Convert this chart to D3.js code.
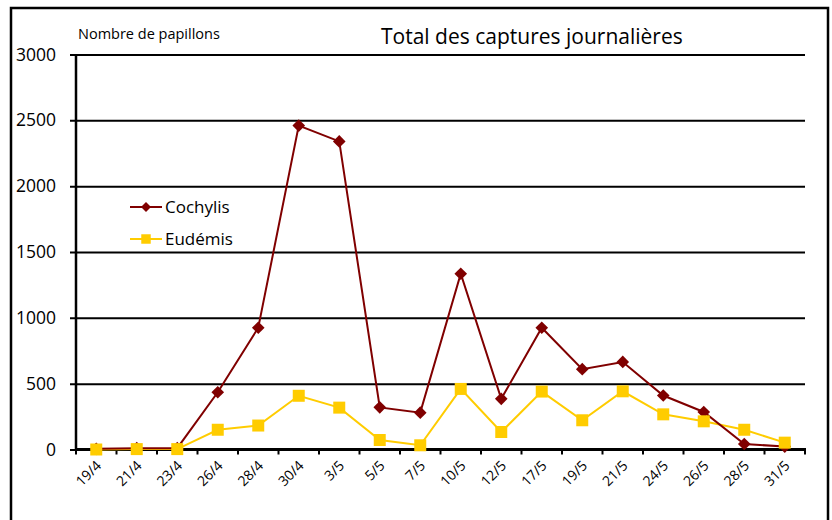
<!DOCTYPE html>
<meta charset="utf-8">
<head>
  <script src="https://d3js.org/d3.v7.min.js"></script>
  <style>
    body { margin: 0; background: #fff; }
    text { font-family: "Open Sans", "DejaVu Sans", sans-serif; fill: #000; }
  </style>
</head>
<body>
  <svg width="832" height="520"></svg>
  <script>
    // dates of the catches
    var dates = ["19/4","21/4","23/4","26/4","28/4","30/4","3/5","5/5","7/5","10/5",
                 "12/5","17/5","19/5","21/5","24/5","26/5","28/5","31/5"];
    var cochylis = [5, 10, 10, 435, 925, 2460, 2340, 320, 280, 1335,
                    385, 925, 610, 665, 410, 285, 42, 22];
    var eudemis = [0, 3, 3, 150, 182, 408, 318, 72, 32, 460,
                   133, 440, 222, 442, 267, 214, 150, 52];
    var yTicks = [0, 500, 1000, 1500, 2000, 2500, 3000];

    var svg = d3.select("svg");
    var mLeft = 76, mRight = 805, mTop = 54.5, mBottom = 449.5;

    // outer frame
    svg.append("rect")
      .attr("x", 11).attr("y", 8)
      .attr("width", 817).attr("height", 530)
      .attr("fill", "none").attr("stroke", "#000").attr("stroke-width", 2.5);

    var x = d3.scaleBand().domain(dates).range([mLeft, mRight]);
    var y = d3.scaleLinear().domain([0, 3000]).range([mBottom, mTop]);

    // horizontal grid lines + y labels
    var yAxis = svg.append("g").attr("transform", "translate(" + mLeft + ",0)")
      .call(d3.axisLeft(y).tickValues(yTicks).tickSize(-(mRight - mLeft)).tickSizeOuter(0).tickFormat(d3.format("d")));
    yAxis.select(".domain").remove();
    yAxis.selectAll(".tick line").attr("stroke", "#000").attr("stroke-width", 2).attr("x1", -6);
    yAxis.selectAll(".tick text").attr("x", -20).style("font-size", "17.5px")
      .style("font-family", "'Open Sans', sans-serif");

    // vertical axis line
    svg.append("line")
      .attr("x1", mLeft).attr("x2", mLeft).attr("y1", mTop).attr("y2", mBottom)
      .attr("stroke", "#000").attr("stroke-width", 2.5);

    // x axis with ticks between the categories
    var xg = svg.append("g").attr("transform", "translate(0," + mBottom + ")");
    xg.append("line").attr("x1", mLeft).attr("x2", mRight + 1)
      .attr("stroke", "#000").attr("stroke-width", 3);
    var edges = dates.map(function(d){ return x(d); }).concat([mRight]);
    xg.selectAll(".tk").data(edges).enter().append("line")
      .attr("x1", function(d){ return d; }).attr("x2", function(d){ return d; })
      .attr("y1", 0).attr("y2", 5)
      .attr("stroke", "#000").attr("stroke-width", 2);
    xg.selectAll(".lab").data(dates).enter().append("text")
      .attr("transform", function(d){
        return "translate(" + (x(d) + x.bandwidth() / 2 + 6) + ",17) rotate(-45)";
      })
      .attr("text-anchor", "end")
      .style("font-size", "14px")
      .text(function(d){ return d; });

    var cx = function(d, i){ return x(dates[i]) + x.bandwidth() / 2; };

    var line = d3.line().x(function(d, i){ return cx(d, i); }).y(function(d){ return y(d); });

    // Eudémis
    svg.append("path").datum(eudemis).attr("d", line)
      .attr("fill", "none").attr("stroke", "#FFCC00").attr("stroke-width", 2);
    // Cochylis
    svg.append("path").datum(cochylis).attr("d", line)
      .attr("fill", "none").attr("stroke", "#800000").attr("stroke-width", 2);

    svg.selectAll(".diam").data(cochylis).enter().append("path")
      .attr("d", d3.symbol().type(d3.symbolSquare).size(80))
      .attr("transform", function(d, i){ return "translate(" + cx(d, i) + "," + y(d) + ") rotate(45)"; })
      .attr("fill", "#800000");
    svg.selectAll(".sq").data(eudemis).enter().append("path")
      .attr("d", d3.symbol().type(d3.symbolSquare).size(144))
      .attr("transform", function(d, i){ return "translate(" + cx(d, i) + "," + y(d) + ")"; })
      .attr("fill", "#FFCC00");

    // legend
    var legend = [{name: "Cochylis", color: "#800000", sym: "diam"}, {name: "Eudémis", color: "#FFCC00", sym: "sq"}];
    var lg = svg.selectAll(".lg").data(legend).enter().append("g")
      .attr("transform", function(d, i){ return "translate(130," + (207 + i * 32) + ")"; });
    lg.append("line").attr("x1", 0).attr("x2", 32)
      .attr("stroke", function(d){ return d.color; }).attr("stroke-width", 2);
    lg.append("path")
      .attr("d", function(d){ return d3.symbol().type(d3.symbolSquare).size(d.sym == "diam" ? 50 : 90)(); })
      .attr("transform", function(d){ return "translate(16,0)" + (d.sym == "diam" ? " rotate(45)" : ""); })
      .attr("fill", function(d){ return d.color; });
    lg.append("text").attr("x", 35).attr("y", 6)
      .style("font-size", "17px").text(function(d){ return d.name; });

    // titles
    svg.append("text").attr("x", 78).attr("y", 39).style("font-size", "14.5px").text("Nombre de papillons");
    svg.append("text").attr("x", 381).attr("y", 44).style("font-size", "21px").text("Total des captures journalières");
  </script>
</body>
